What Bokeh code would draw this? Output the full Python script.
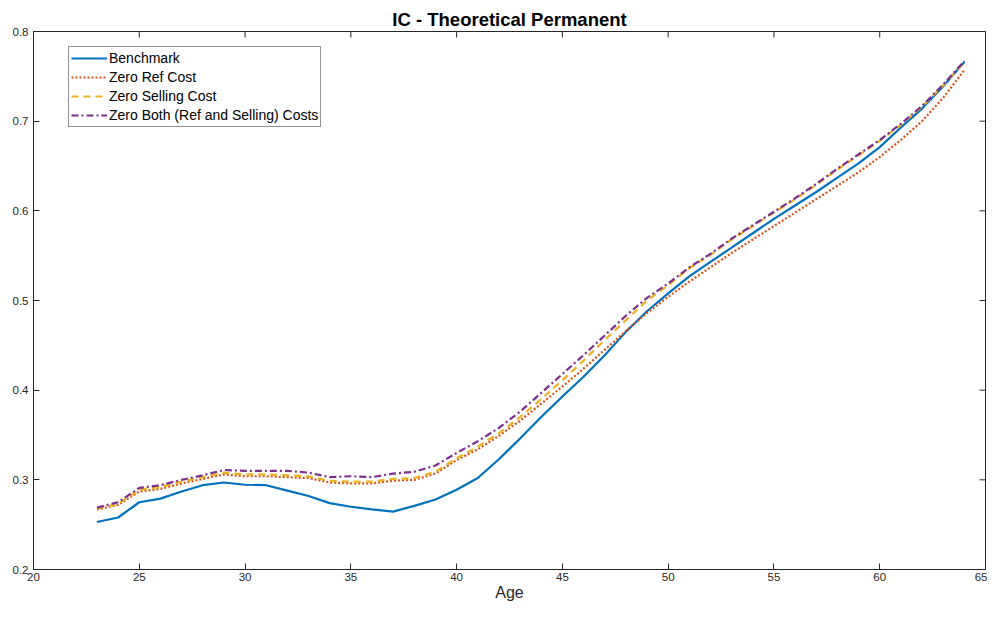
import math
from bokeh.plotting import figure
from bokeh.models import (ColumnDataSource, Legend, LegendItem, FixedTicker)
from bokeh.embed import file_html
from bokeh.resources import INLINE

# ---------------- data ----------------
ages = [23, 24, 25, 26, 27, 28, 29, 30, 31, 32, 33, 34, 35, 36, 37, 38, 39, 40, 41, 42,
        43, 44, 45, 46, 47, 48, 49, 50, 51, 52, 53, 54, 55, 56, 57, 58, 59, 60, 61, 62, 63, 64]

benchmark = [0.253, 0.258, 0.275, 0.279, 0.287, 0.294, 0.297, 0.2945, 0.294, 0.288,
             0.282, 0.274, 0.270, 0.267, 0.2645, 0.271, 0.278, 0.289, 0.302, 0.323,
             0.346, 0.370, 0.393, 0.415, 0.439, 0.465, 0.488, 0.508, 0.527, 0.543,
             0.559, 0.575, 0.591, 0.606, 0.621, 0.637, 0.653, 0.671, 0.693, 0.714,
             0.739, 0.766]

zero_ref = [0.267, 0.272, 0.287, 0.290, 0.296, 0.301, 0.306, 0.304, 0.304, 0.303,
            0.302, 0.297, 0.296, 0.296, 0.299, 0.300, 0.307, 0.322, 0.334, 0.349,
            0.366, 0.385, 0.404, 0.424, 0.445, 0.466, 0.486, 0.504, 0.521, 0.537,
            0.553, 0.568, 0.583, 0.598, 0.613, 0.628, 0.643, 0.660, 0.679, 0.700,
            0.726, 0.757]

zero_sell = [0.268, 0.273, 0.289, 0.292, 0.298, 0.303, 0.308, 0.306, 0.306, 0.305,
             0.304, 0.299, 0.298, 0.298, 0.301, 0.302, 0.309, 0.324, 0.337, 0.352,
             0.370, 0.390, 0.411, 0.433, 0.456, 0.478, 0.500, 0.517, 0.536, 0.551,
             0.568, 0.583, 0.598, 0.613, 0.629, 0.646, 0.662, 0.678, 0.696, 0.716,
             0.740, 0.766]

zero_both = [0.269, 0.275, 0.291, 0.294, 0.300, 0.305, 0.311, 0.310, 0.310, 0.310,
             0.308, 0.303, 0.304, 0.303, 0.307, 0.309, 0.316, 0.330, 0.343, 0.358,
             0.376, 0.397, 0.418, 0.439, 0.461, 0.483, 0.503, 0.519, 0.537, 0.552,
             0.569, 0.584, 0.599, 0.614, 0.630, 0.647, 0.663, 0.679, 0.697, 0.717,
             0.741, 0.767]

series_names = ["Benchmark", "Zero Ref Cost", "Zero Selling Cost",
                "Zero Both (Ref and Selling) Costs"]
x_ticks = [20, 25, 30, 35, 40, 45, 50, 55, 60, 65]
y_ticks = [0.2, 0.3, 0.4, 0.5, 0.6, 0.7, 0.8]
title_text = "IC - Theoretical Permanent"
x_label = "Age"

# ---------------- figure ----------------
FONT = "Liberation Sans"
AX = "#262626"

p = figure(width=987, height=603, x_range=(x_ticks[0], x_ticks[-1]),
           y_range=(y_ticks[0], y_ticks[-1]),
           output_backend="svg", toolbar_location=None,
           min_border_left=33, min_border_right=2, min_border_top=31, min_border_bottom=30)
p.grid.visible = False
p.outline_line_color = AX
p.outline_line_width = 1
p.background_fill_color = "white"
p.border_fill_color = "white"

p.title.text = title_text
p.title.align = "center"
p.title.text_font = FONT
p.title.text_font_style = "bold"
p.title.text_font_size = "18.5px"
p.title.text_color = "black"
p.title.standoff = 3
p.title.offset = 0

src = ColumnDataSource(dict(age=ages, b=benchmark, r=zero_ref, s=zero_sell, z=zero_both))

r0 = p.line("age", "b", source=src, line_color="#0072BD", line_width=2.2)
r1 = p.line("age", "r", source=src, line_color="#D95319", line_width=2.2,
            line_dash="2 2")
r2 = p.line("age", "s", source=src, line_color="#EDB120", line_width=2.2,
            line_dash="7 5")
r3 = p.line("age", "z", source=src, line_color="#7E2F8E", line_width=2.2,
            line_dash="7 3 2 3")

# inward tick marks on the top and right edges of the box (MATLAB style)
p.scatter(x=x_ticks, y=[y_ticks[-1]] * len(x_ticks), marker="dash", size=12,
          angle=math.pi / 2, line_color=AX, line_width=1)
p.scatter(x=[x_ticks[-1]] * len(y_ticks), y=y_ticks, marker="dash", size=12,
          angle=0, line_color=AX, line_width=1)


def style_axis(ax, ticks, standoff):
    ax.ticker = FixedTicker(ticks=ticks)
    ax.minor_tick_line_color = None
    ax.major_tick_in = 6
    ax.major_tick_out = 0
    ax.major_tick_line_color = AX
    ax.axis_line_color = AX
    ax.major_label_text_font = FONT
    ax.major_label_text_color = AX
    ax.major_label_text_font_size = "11.5px"
    ax.major_label_standoff = standoff


style_axis(p.xaxis[0], x_ticks, 3)
style_axis(p.yaxis[0], y_ticks, 5)
p.xaxis[0].axis_label = x_label
p.xaxis[0].axis_label_text_font = FONT
p.xaxis[0].axis_label_text_font_style = "normal"
p.xaxis[0].axis_label_text_font_size = "16px"
p.xaxis[0].axis_label_text_color = AX
p.xaxis[0].axis_label_standoff = 0

legend = Legend(items=[LegendItem(label=series_names[0], renderers=[r0]),
                       LegendItem(label=series_names[1], renderers=[r1]),
                       LegendItem(label=series_names[2], renderers=[r2]),
                       LegendItem(label=series_names[3], renderers=[r3])],
                location=(35, 442))
legend.label_text_font = FONT
legend.label_text_font_size = "14px"
legend.label_text_color = "black"
legend.glyph_width = 36
legend.glyph_height = 18
legend.label_height = 18
legend.label_standoff = 2
legend.spacing = 1
legend.padding = 2
legend.margin = 0
legend.border_line_color = AX
legend.border_line_width = 1
legend.background_fill_color = "white"
legend.background_fill_alpha = 1
p.add_layout(legend, "center")

open("out.html", "w").write(file_html(p, INLINE))
